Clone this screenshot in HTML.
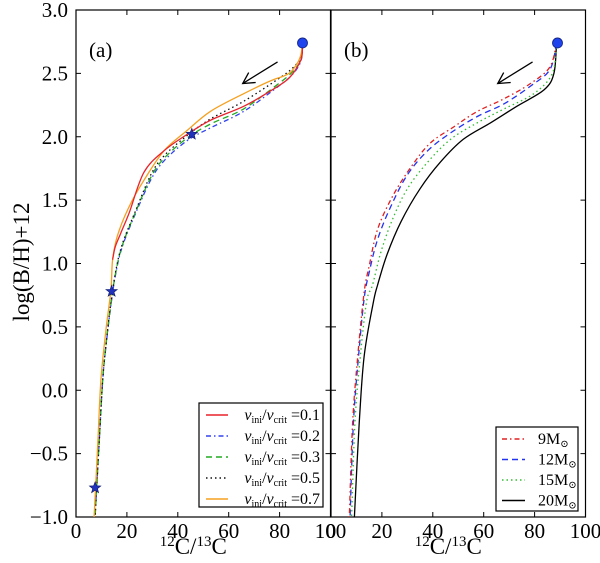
<!DOCTYPE html>
<html><head><meta charset="utf-8"><style>
body{margin:0;background:#fff}
svg{display:block}
text{font-family:"Liberation Serif","DejaVu Serif",serif;fill:#000}
</style></head><body>
<svg id="chart" width="600" height="563" viewBox="0 0 600 563">
<g id="g"></g>
</svg>
<script>
// ---- data ----
const xTicks=[0,20,40,60,80,100];
const yTicks=[3.0,2.5,2.0,1.5,1.0,0.5,0.0,-0.5,-1.0];
const yTickLabels=["3.0","2.5","2.0","1.5","1.0","0.5","0.0","\u22120.5","\u22121.0"];
// panel (a) series
const aRedX=[89,88.6,86,83,76.3,65.9,52.8,43,34.6,26.7,20.9,17.6,15.4,14.4];
const aRedY=[2.74,2.62,2.52,2.45,2.36,2.24,2.13,2.01,1.89,1.72,1.40,1.24,1.13,1.03];
const aBlueX=[89,88.4,85,79,65.9,52.8,43.7,34.6,29.4,23.5,18.3,15.7,13.7,11.8,10.5,9,7.5];
const aBlueY=[2.74,2.60,2.49,2.39,2.20,2.07,1.97,1.81,1.66,1.40,1.14,0.93,0.67,0.35,0.08,-0.45,-1.0];
const aGreenX=[89,88.4,85,79,65.9,52.8,43.7,34.6,29.4,23.5,18.3,15.7,13.7,11.8,10.5,9,7.5];
const aGreenY=[2.74,2.61,2.51,2.41,2.22,2.10,1.99,1.83,1.68,1.41,1.15,0.94,0.68,0.36,0.08,-0.45,-1.0];
const aBlackX=[89,88.5,85,79,65.9,52.8,43.7,34.6,29.4,23.5,18.3,15.7,13.7,11.8,10.5,9,7.5];
const aBlackY=[2.74,2.63,2.54,2.45,2.28,2.14,2.01,1.85,1.70,1.42,1.16,0.95,0.69,0.36,0.08,-0.45,-1.0];
const aOrangeX=[89,88.3,86,82.9,76.3,65.9,52.8,43.7,34.6,26.8,20.9,16.3,14.4,13.7,11.8,9.8,8.5,7.1];
const aOrangeY=[2.74,2.64,2.55,2.49,2.44,2.34,2.20,2.05,1.89,1.66,1.45,1.22,1.03,0.79,0.48,0.08,-0.45,-1.0];
const starX=[45.5,14,7.5];
const starY=[2.02,0.78,-0.77];
// panel (b)
const b9X=[88.6,86,78.4,68,57.5,48.4,39,31.4,24.2,18.3,15,13,10.5,8.5,7.2];
const b9Y=[2.74,2.55,2.42,2.30,2.20,2.08,1.95,1.76,1.53,1.27,0.98,0.77,0.265,-0.26,-1.0];
const b12X=[88.6,86,78.4,68,57.5,47,38,30,23.5,18.3,15,13,10.8,8.8,7.5];
const b12Y=[2.74,2.53,2.40,2.26,2.16,2.03,1.89,1.70,1.45,1.19,0.93,0.72,0.265,-0.26,-1.0];
const b15X=[88.6,87,79.7,68,57.5,47,38,30,24.2,19.6,16.3,14,11.5,9.4,8.1];
const b15Y=[2.74,2.50,2.34,2.22,2.11,1.98,1.80,1.59,1.35,1.09,0.83,0.70,0.265,-0.26,-1.0];
const b20X=[88.6,87.6,83.7,73,62.7,52,43,35,27.5,22,18.3,16.5,13,11.1,9.2];
const b20Y=[2.74,2.5,2.37,2.24,2.11,1.98,1.80,1.59,1.33,1.07,0.83,0.68,0.265,-0.26,-1.0];
const startX=[89];
const startY=[2.74];
const aLegend=["0.1","0.2","0.3","0.5","0.7"];
const bLegend=["9","12","15","20"];

// ---- layout ----
const NS="http://www.w3.org/2000/svg";
const G=document.getElementById('g');
const top_=10,bot=517,panels=[76,331],pw=254.5;
function sy(v){return top_+(3-v)*(bot-top_)/4;}
function sx(p,d){return panels[p]+d*pw/100;}
function mk(tag,attrs,parent){const e=document.createElementNS(NS,tag);for(const k in attrs)e.setAttribute(k,attrs[k]);(parent||G).appendChild(e);return e;}
function pathD(p,xs,ys){
  const pts=xs.map((x,i)=>[sx(p,x),sy(ys[i])]);
  let d="M"+pts[0][0].toFixed(1)+","+pts[0][1].toFixed(1);
  for(let i=0;i<pts.length-1;i++){
    const p0=pts[Math.max(0,i-1)],p1=pts[i],p2=pts[i+1],p3=pts[Math.min(pts.length-1,i+2)];
    const c1=[p1[0]+(p2[0]-p0[0])/6,p1[1]+(p2[1]-p0[1])/6];
    const c2=[p2[0]-(p3[0]-p1[0])/6,p2[1]-(p3[1]-p1[1])/6];
    d+=" C"+c1.map(v=>v.toFixed(1))+" "+c2.map(v=>v.toFixed(1))+" "+p2.map(v=>v.toFixed(1));
  }
  return d;
}
function series(p,xs,ys,color,dash,name){
  const e=mk('path',{d:pathD(p,xs,ys),fill:'none',stroke:color,'stroke-width':1.3,'stroke-dasharray':dash});
  
  
}
const DD="5,3,1.5,3",DA="6,4",DT="1.5,3";

for(let p=0;p<2;p++){
  const f=mk('rect',{x:panels[p],y:top_,width:pw,height:bot-top_,fill:'none',stroke:'#000','stroke-width':1.2});
  
  
  xTicks.forEach(t=>{
    const x=sx(p,t);
    mk('line',{x1:x,x2:x,y1:bot,y2:bot-5,stroke:'#000'});
    mk('line',{x1:x,x2:x,y1:top_,y2:top_+5,stroke:'#000'});
    const tl=mk('text',{x:x,y:bot+21,'text-anchor':'middle','font-size':21});
    tl.textContent=String(t);
    
    
  });
  yTicks.forEach(t=>{
    const y=sy(t);
    mk('line',{x1:panels[p],x2:panels[p]+5,y1:y,y2:y,stroke:'#000'});
    mk('line',{x1:panels[p]+pw,x2:panels[p]+pw-5,y1:y,y2:y,stroke:'#000'});
  });
  const xl=mk('text',{x:panels[p]+pw/2-10,y:554,'text-anchor':'middle','font-size':23});
  xl.innerHTML='<tspan font-size="15" dy="-8">12</tspan><tspan dy="8">C/</tspan><tspan font-size="15" dy="-8">13</tspan><tspan dy="8">C</tspan>';
  
  
  const pl=mk('text',{x:panels[p]+13,y:57,'font-size':21});
  pl.textContent=p?'(b)':'(a)';
  
  
  const ax1=sx(p,79.2),ay1=sy(2.59),ax2=sx(p,65.5),ay2=sy(2.42);
  const ar=mk('g',{});
  
  
  mk('line',{x1:ax1,y1:ay1,x2:ax2,y2:ay2,stroke:'#000','stroke-width':1.3},ar);
  mk('polyline',{points:`${ax2+13},${ay2-1} ${ax2},${ay2} ${ax2+6},${ay2-11}`,fill:'none',stroke:'#000','stroke-width':1.3},ar);
}
yTicks.forEach((t,i)=>{
  const tl=mk('text',{x:68,y:sy(t)+7,'text-anchor':'end','font-size':21});
  tl.textContent=yTickLabels[i];
  
  
});
const yt=mk('text',{x:0,y:0,'text-anchor':'middle','font-size':23,transform:'translate(29,262) rotate(-90)'});
yt.textContent='log(B/H)+12';



series(0,aBlueX,aBlueY,'#3344ee',DD,'series-a-0.2');
series(0,aGreenX,aGreenY,'#22aa22',DA,'series-a-0.3');
series(0,aBlackX,aBlackY,'#111',DT,'series-a-0.5');
series(0,aOrangeX,aOrangeY,'#f5a020','','series-a-0.7');
series(0,aRedX,aRedY,'#e8222a','','series-a-0.1');
starX.forEach((x,i)=>{
  const cx=sx(0,x),cy=sy(starY[i]);let pts=[];
  for(let k=0;k<10;k++){const r=k%2?2.5:6,a=-Math.PI/2+k*Math.PI/5;pts.push((cx+r*Math.cos(a)).toFixed(1)+','+(cy+r*Math.sin(a)).toFixed(1));}
  const s=mk('polygon',{points:pts.join(' '),fill:'#2233bb',stroke:'#111a66','stroke-width':0.6});
  
  
});
series(1,b20X,b20Y,'#000','','series-b-20');
series(1,b15X,b15Y,'#33bb33',DT,'series-b-15');
series(1,b12X,b12Y,'#2233ee',DA,'series-b-12');
series(1,b9X,b9Y,'#e02020',DD,'series-b-9');
for(let p=0;p<2;p++){
  const c=mk('circle',{cx:sx(p,startX[0]),cy:sy(startY[0]),r:5,fill:'#1f44ee',stroke:'#102080','stroke-width':0.8});
  
  
}

const lgA=mk('g',{});


mk('rect',{x:199,y:403,width:124,height:104,fill:'#fff',stroke:'#000','stroke-width':1.2},lgA);
const aCols=['#e8222a','#3344ee','#22aa22','#111','#f5a020'],aDash=['',DD,DA,DT,''];
aLegend.forEach((v,i)=>{
  const y=415+i*21;
  const e=mk('g',{},lgA);
  
  
  mk('line',{x1:206,x2:228,y1:y,y2:y,stroke:aCols[i],'stroke-width':1.5,'stroke-dasharray':aDash[i]},e);
  const t=mk('text',{x:320,y:y+5,'text-anchor':'end','font-size':16},e);
  t.innerHTML='<tspan font-style="italic">v</tspan><tspan font-size="10" dy="3">ini</tspan><tspan dy="-3">/</tspan><tspan font-style="italic">v</tspan><tspan font-size="10" dy="3">crit</tspan><tspan dy="-3"> =</tspan>'+v;
});
const lgB=mk('g',{});


mk('rect',{x:496,y:427,width:82,height:84,fill:'#fff',stroke:'#000','stroke-width':1.2},lgB);
const bCols=['#e02020','#2233ee','#33bb33','#000'],bDash=[DD,DA,DT,''];
bLegend.forEach((v,i)=>{
  const y=439+i*20.5;
  const e=mk('g',{},lgB);
  
  
  mk('line',{x1:502,x2:525,y1:y,y2:y,stroke:bCols[i],'stroke-width':1.5,'stroke-dasharray':bDash[i]},e);
  const t=mk('text',{x:538,y:y+5,'font-size':16},e);
  t.innerHTML=v+'M<tspan font-size="10" dy="3">\u2299</tspan>';
});
</script>
</body></html>
